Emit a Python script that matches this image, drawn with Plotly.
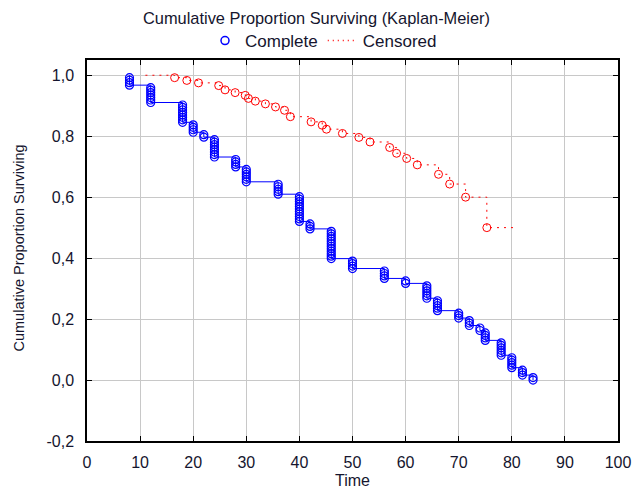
import plotly.graph_objects as go

# ---- data ----
# Complete group: event times and number of deaths at each time
blue_times = [8, 12, 18, 20, 22, 24, 28, 30, 36, 40, 42, 46, 50, 56, 60, 64, 66, 70, 72, 74, 75, 78, 80, 82, 84]
blue_deaths = [4, 7, 8, 4, 2, 8, 4, 6, 5, 11, 3, 12, 4, 4, 2, 6, 5, 3, 3, 2, 4, 6, 5, 3, 2]

# Censored group: event times and cumulative proportion surviving
red_times = [16.5, 18.8, 21.0, 24.8, 26.0, 27.9, 29.8, 30.4, 31.7, 33.6, 35.5, 37.2, 38.3,
             42.2, 44.3, 45.1, 48.1, 51.2, 53.3, 57.0, 58.3, 60.2, 62.2, 66.2, 68.3, 71.3, 75.3]
red_surv = [0.992, 0.983, 0.975, 0.966, 0.952, 0.943, 0.934, 0.924, 0.915, 0.906, 0.896, 0.885, 0.864,
            0.847, 0.836, 0.823, 0.809, 0.796, 0.781, 0.763, 0.744, 0.727, 0.706, 0.675, 0.643, 0.600, 0.500]
red_first_time = 11
red_last_time = 81

x_ticks = [0, 10, 20, 30, 40, 50, 60, 70, 80, 90, 100]
x_ticktext = ["0", "10", "20", "30", "40", "50", "60", "70", "80", "90", "100"]
y_ticks = [-0.2, 0.0, 0.2, 0.4, 0.6, 0.8, 1.0]
y_ticktext = ["-0,2", "0,0", "0,2", "0,4", "0,6", "0,8", "1,0"]

BLUE = "#0000ff"
RED = "#ff0000"
FONT = "Liberation Sans, Arial, sans-serif"
TXT = "#15152e"

W, H = 633, 490
ML, MR, MT, MB = 87, 15, 60, 49

# Kaplan-Meier for complete data (no censoring)
N = sum(blue_deaths)
mk_x, mk_y = [], []
line_x, line_y = [blue_times[0]], [1.0]
cum = 0
for t, d in zip(blue_times, blue_deaths):
    for _ in range(d):
        cum += 1
        mk_x.append(t)
        mk_y.append(1 - cum / N)
    line_x.append(t)
    line_y.append(1 - cum / N)

fig = go.Figure()

fig.add_trace(go.Scatter(x=line_x, y=line_y, mode="lines", line=dict(color=BLUE, width=1, shape="hv"),
                         showlegend=False, hoverinfo="skip"))
fig.add_trace(go.Scatter(x=mk_x, y=mk_y, mode="markers",
                         marker=dict(symbol="circle-open", size=8, color=BLUE, line=dict(width=1.2, color=BLUE)),
                         showlegend=False))

rx = [red_first_time] + red_times + [red_last_time]
ry = [1.0] + red_surv + [red_surv[-1]]
fig.add_trace(go.Scatter(x=rx, y=ry, mode="lines", line=dict(color=RED, width=1, shape="hv", dash="2px,5px"),
                         showlegend=False, hoverinfo="skip"))
fig.add_trace(go.Scatter(x=red_times, y=red_surv, mode="markers",
                         marker=dict(symbol="circle-open", size=8, color=RED, line=dict(width=1, color=RED)),
                         showlegend=False))

# legend-only entries
fig.add_trace(go.Scatter(x=[None], y=[None], mode="markers", name="Complete",
                         marker=dict(symbol="circle-open", size=8, color=BLUE, line=dict(width=1.5, color=BLUE))))
fig.add_trace(go.Scatter(x=[None], y=[None], mode="lines", name="Censored",
                         line=dict(color=RED, width=1.5, dash="1px,4px")))

pw = W - ML - MR
ph = H - MT - MB

fig.update_layout(
    width=W, height=H,
    margin=dict(l=ML, r=MR, t=MT, b=MB),
    paper_bgcolor="white", plot_bgcolor="white",
    font=dict(family=FONT, size=16, color=TXT),
    title=dict(text="Cumulative Proportion Surviving (Kaplan-Meier)", x=0.5, xanchor="center",
               y=1 - 18 / H, yanchor="middle", font=dict(size=16.4, color=TXT)),
    legend=dict(orientation="h", x=(205 - ML) / pw, xanchor="left", y=1 + (MT - 41) / ph, yanchor="middle",
                font=dict(size=17, color=TXT), bgcolor="rgba(0,0,0,0)", itemwidth=30),
    showlegend=True,
    annotations=[
        dict(text="Time", xref="paper", yref="paper", x=0.5, y=-(480 - (H - MB)) / ph,
             xanchor="center", yanchor="middle", showarrow=False, font=dict(size=16, color=TXT)),
        dict(text="Cumulative Proportion Surviving", xref="paper", yref="paper",
             x=-(ML - 18.5) / pw, y=(H - MB - 248) / ph, textangle=-90,
             xanchor="center", yanchor="middle", showarrow=False, font=dict(size=14.5, color=TXT)),
    ],
)
fig.update_xaxes(range=[0, 100], tickvals=x_ticks, ticktext=x_ticktext, automargin=False,
                 showgrid=True, gridcolor="#c8c8c8", gridwidth=1,
                 showline=True, linecolor="black", linewidth=1.5, mirror="ticks",
                 ticks="inside", ticklen=5, tickcolor="black",
                 zeroline=False, ticklabelstandoff=6, tickfont=dict(size=16))
fig.update_yaxes(range=[-0.2, 1.05], tickvals=y_ticks, ticktext=y_ticktext, automargin=False,
                 showgrid=True, gridcolor="#c8c8c8", gridwidth=1,
                 showline=True, linecolor="black", linewidth=1.5, mirror="ticks",
                 ticks="inside", ticklen=5, tickcolor="black",
                 zeroline=False, ticklabelstandoff=8, tickfont=dict(size=16))

fig.write_html("out.html")
